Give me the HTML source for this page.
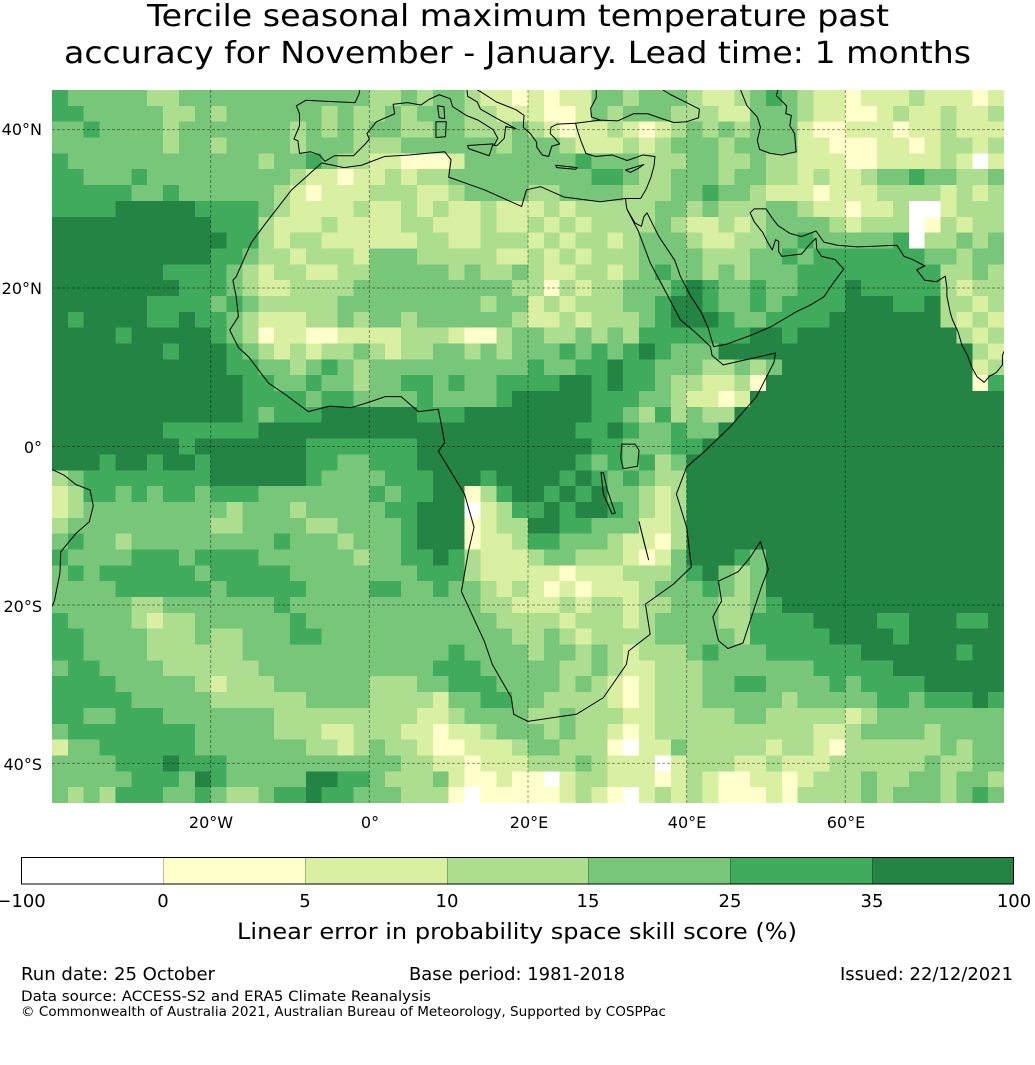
<!DOCTYPE html>
<html><head><meta charset="utf-8"><style>
html,body{margin:0;padding:0;background:#fff;}
svg{display:block;}
text{font-family:"DejaVu Sans","Liberation Sans",sans-serif;fill:#000;}
</style></head><body>
<svg id="root" width="1035" height="1065" viewBox="0 0 1035 1065" xmlns="http://www.w3.org/2000/svg">
<rect width="1035" height="1065" fill="#fff"/>
<text x="518" y="26" font-size="30" text-anchor="middle" textLength="742" lengthAdjust="spacingAndGlyphs">Tercile seasonal maximum temperature past</text>
<text x="517.5" y="63" font-size="30" text-anchor="middle" textLength="907" lengthAdjust="spacingAndGlyphs">accuracy for November - January. Lead time: 1 months</text>

<svg x="52" y="90" width="952" height="713" viewBox="-40 -45 120 90" preserveAspectRatio="none">
<rect x="-40" y="-45" width="120" height="90" fill="#78c679"/>
<g id="cells" shape-rendering="crispEdges"></g>
<g fill="none" stroke="#000" stroke-opacity="0.4" stroke-width="1" vector-effect="non-scaling-stroke" stroke-dasharray="3,2">
<path vector-effect="non-scaling-stroke" d="M-20,-45V45M0,-45V45M20,-45V45M40,-45V45M60,-45V45M-40,-40H80M-40,-20H80M-40,0H80M-40,20H80M-40,40H80"/>
</g>
<g fill="none" stroke="#000" stroke-width="1" stroke-linejoin="round">
<path vector-effect="non-scaling-stroke" d="M-6,-35.8 L-9.8,-32.4 -13.2,-28 -14.9,-25.7 -16.8,-21.4 -17.2,-21 -16.8,-19 -16.5,-16.4 -17.6,-14.7 -16.5,-12.5 -15.2,-11.3 -12.7,-8 -10.5,-6.5 -7.7,-4.4 -5,-5.1 -2.3,-4.9 0,-5.6 2,-6.3 4,-6.3 6.2,-4.4 8.7,-4.7 9.5,-0.5 8.7,0.6 12,6 13.2,10.2 12.5,13.2 11.6,18.3 14.5,24.6 15.5,27.5 17.9,31.7 18.2,33.8 20,34.7 24,34.1 26.1,33.8 29.5,31.7 32.4,27.5 32.7,25.8 35.4,23.7 34.8,19.9 38.3,17.4 40.6,15.2 40,10.2 38.7,6 40,2.6 42.5,0.4 45.5,-2.5 48.8,-6.3 51,-10.6 51.2,-11.8 49,-11.3 44.6,-10.3 43.2,-11.5 43,-12.6 41,-14.5 39.2,-16 37,-20.2 35.4,-23.2 33.9,-27.2 32.5,-29.9 32.4,-30.3 32.3,-31.3 29.1,-30.9 24.5,-31.5 21.6,-32.8 19.8,-32.4 19.2,-30.3 14.5,-32.4 10,-34 10.3,-36.2 9.5,-37.2 5,-36.8 1.9,-36.6 -1,-35.5 -3.2,-35.2 -6,-35.8"/>
<path vector-effect="non-scaling-stroke" d="M32.5,-29.9 L33.5,-28.2 34.3,-27.8 34.6,-29 35,-29.5 36.5,-26.5 38.5,-23.5 39.2,-21.5 40.5,-19 41.8,-17 42.7,-15 43.4,-12.6 45,-12.9 48,-14 50.6,-15.1 53.8,-17 55.5,-17.8 57.3,-18.9 58.6,-20.8 59.8,-22.4 58.7,-23.6 57,-24 56.4,-24.9 56.3,-26.3 55.5,-25.5 54.5,-24.3 52,-24 51.6,-24.6 51.6,-25.9 51.2,-26.1 50.8,-24.8 50.2,-25.8 49.6,-27 48.5,-28.4 48,-29.5 48.5,-30 50,-30 50.8,-28.8 51.5,-27.9 53,-26.9 54.5,-26.5 56.3,-27.2 57.3,-25.8 59,-25.4 61.5,-25.2 64,-25.3 66.5,-25.4 67.4,-24 68.5,-23.6 70,-22.8 69,-22.3 70,-21 71.5,-20.8 72.6,-21.5 72.8,-20 72.8,-19 73.2,-17 73.5,-16 74.2,-14.5 74.7,-12.8 75.4,-11.5 76,-9.9 76.6,-8.8 77.5,-8.1 78.2,-8.9 79,-9.3 79.8,-10.3 79.8,-11.5 80,-12"/>
<path vector-effect="non-scaling-stroke" d="M32.3,-31.3 L34.2,-31.3 34.9,-32.5 35.5,-34 35.9,-35.5 36,-36.6 34.5,-36.8 32.5,-36.1 30.6,-36.8 28.5,-36.6 27.3,-37 26.7,-38.5 26.2,-40 26,-40.8 29.1,-41.2 31.3,-41.1 33.3,-42 35.1,-42 36.8,-41.4 38.4,-40.9 40,-41 41.5,-41.5 41.6,-42.6 40,-43.4 38,-44.4 37,-45"/>
<path vector-effect="non-scaling-stroke" d="M28.6,-45 L28.6,-44 27.9,-42.7 28,-41.6 29.1,-41.2"/>
<path vector-effect="non-scaling-stroke" d="M26,-40.8 L23.7,-40.7 22.9,-40.3 22.8,-39.5 23.3,-39 24,-38.2 23,-37.9 22.6,-36.6 21.8,-36.8 21.1,-37.8 21.1,-38.4 20.3,-39.5 19.4,-40.3 19.5,-41.8 18.5,-42.5 16,-43.5 14,-44.8 13.6,-45"/>
<path vector-effect="non-scaling-stroke" d="M12.3,-45 L12.4,-44.2 13.6,-43.5 14,-42.6 16.1,-41.4 18.5,-40.1 17.2,-40.4 17,-38.9 16.1,-38 15.7,-38 16.2,-38.9 15.6,-40 13.7,-41.2 12.2,-41.8 10.5,-42.9 10.2,-43.9 8.8,-44.4 7.5,-43.8 6.5,-43.1 4.8,-43.4 3,-43.2 3.2,-42 0.9,-41 -0.3,-39.5 0,-38.8 -0.5,-38.2 -2,-36.7 -4.4,-36.7 -5.6,-36 -6.3,-36.8 -7.4,-37.2 -8.8,-37 -9,-38.6 -9.5,-38.8 -8.8,-40.5 -8.8,-42 -9.2,-43 -8,-43.7 -4,-43.5 -1.8,-43.4 -1.3,-44.5 -1.2,-45"/>
<path vector-effect="non-scaling-stroke" d="M46.8,-45 L47.6,-43 48.9,-41.6 49.3,-40.3 48.9,-38.6 49.2,-37.5 50.5,-37 52,-36.8 53.8,-37.2 53.6,-39.5 53,-40.5 53.2,-41.8 52.5,-42 52.6,-43 51.3,-44.3 51.5,-45"/>
<path vector-effect="non-scaling-stroke" d="M49.3,12 L50.3,15.5 49.5,17.5 48.5,20.5 47.1,24.8 45.2,25.5 44,24.5 43.3,21.5 44.4,19.5 44,17 46.5,15.8 48,14 49.3,12Z"/>
<path vector-effect="non-scaling-stroke" d="M-40,2.9 L-38.5,3.6 -37,4.8 -35.2,5.5 -34.8,7.5 -35.3,9.5 -37,11 -38.9,13.3 -39,16 -39.7,19.5 -40,20.2"/>
<path vector-effect="non-scaling-stroke" d="M12.4,-38 L15.6,-38.2 15.1,-36.7 12.5,-37.6Z M8.4,-41 L9.7,-41 9.6,-39.1 8.4,-39Z M8.6,-43 L9.4,-42.9 9.5,-41.4 8.8,-41.5Z M23.5,-35.5 L26.2,-35.2 26,-35 23.6,-35.2Z M32.3,-34.9 L34.6,-35.6 33.9,-35.1 32.9,-34.6Z"/>
<path vector-effect="non-scaling-stroke" d="M31.8,-0.3 L33.5,-0.3 34,0.5 33.8,2.5 32,2.8 31.7,1.5Z M29.2,3.3 L29.5,6 30.6,8.5 31,8.4 30,5.5 29.5,3.3Z M34,9.5 L34.6,12 35.2,14.3 34.5,11.5Z"/>
</g>
</svg>

<g font-size="16" text-anchor="middle">
<text x="211" y="828">20°W</text>
<text x="370" y="828">0°</text>
<text x="529" y="828">20°E</text>
<text x="687" y="828">40°E</text>
<text x="846" y="828">60°E</text>
</g>
<g font-size="16" text-anchor="end">
<text x="42" y="135">40°N</text>
<text x="42" y="294">20°N</text>
<text x="42" y="453">0°</text>
<text x="42" y="612">20°S</text>
<text x="42" y="770">40°S</text>
</g>

<g shape-rendering="crispEdges">
<rect x="21" y="857" width="142" height="27" fill="#ffffff"/>
<rect x="163" y="857" width="142" height="27" fill="#ffffcc"/>
<rect x="305" y="857" width="142" height="27" fill="#d9f0a3"/>
<rect x="447" y="857" width="141" height="27" fill="#addd8e"/>
<rect x="588" y="857" width="142" height="27" fill="#78c679"/>
<rect x="730" y="857" width="142" height="27" fill="#41ab5d"/>
<rect x="872" y="857" width="142" height="27" fill="#238443"/>
<path d="M163.5,857V884M305.5,857V884M447.5,857V884M588.5,857V884M730.5,857V884M872.5,857V884" stroke="#000" stroke-opacity="0.25"/>
<rect x="21.5" y="857.5" width="992" height="26.5" fill="none" stroke="#000" stroke-width="1"/>
</g>
<g font-size="18" text-anchor="middle">
<text x="21" y="907">−100</text>
<text x="163" y="907">0</text>
<text x="305" y="907">5</text>
<text x="447" y="907">10</text>
<text x="588" y="907">15</text>
<text x="730" y="907">25</text>
<text x="872" y="907">35</text>
<text x="1014" y="907">100</text>
</g>
<text x="517" y="939" font-size="22" text-anchor="middle" textLength="560" lengthAdjust="spacingAndGlyphs">Linear error in probability space skill score (%)</text>
<text x="21" y="980" font-size="18" textLength="194" lengthAdjust="spacingAndGlyphs">Run date: 25 October</text>
<text x="517" y="980" font-size="18" text-anchor="middle" textLength="216" lengthAdjust="spacingAndGlyphs">Base period: 1981-2018</text>
<text x="1013" y="980" font-size="18" text-anchor="end" textLength="173" lengthAdjust="spacingAndGlyphs">Issued: 22/12/2021</text>
<text x="21" y="1001" font-size="14.5" textLength="410" lengthAdjust="spacingAndGlyphs">Data source: ACCESS-S2 and ERA5 Climate Reanalysis</text>
<text x="21" y="1016" font-size="13" textLength="645" lengthAdjust="spacingAndGlyphs">© Commonwealth of Australia 2021, Australian Bureau of Meteorology, Supported by COSPPac</text>
</svg>
<script>
(function(){
var rows=[
"5444443344|4444444444|3343443221|212244344432234543221222322212",
"5544444334|3444444343|3434443322|211243444333224443221123223223",
"4454444344|4444434343|4433443334|321223212343434442112221223222",
"4444444344|3444434443|3344444434|443222323444344442211122123323",
"5444444444|4443445433|2211124444|444544433344334332221122223202",
"5544454444|4444432212|2323344444|444455433444344332322344544334",
"5555544544|4444321222|3332234444|334444333445443222122233332323",
"5555666665|5554322223|2232322322|232333334434333443221223002333",
"6666666666|5553222322|2233222322|323233334322323444432333013233",
"6666666666|6553233222|2223322333|232332344432233445444445033434",
"6666666666|5543323332|4443333322|323233344443334454555555544344",
"6666666555|5432332233|4444434334|322332345443434445555555553343",
"6666666655|5432233334|4444444443|313233444565445445556555553233",
"6666665555|4543333344|4444444344|232333445665445455556665563323",
"6566665565|5432223343|4434444443|223233345666544555566666663232",
"6666566666|5431221122|2233321134|433434355555556656666666666323",
"6666666566|6543232334|3233443434|445454565444666666666666666632",
"6666666666|6554434543|4444444444|544556554443343466666666666623",
"6666666666|6655445443|4455454455|556656554332231666666666666615",
"6666666666|6655554554|4445444456|666655544322126666666666666666",
"6666666666|6654555666|6665556666|666655435343366666666666666666",
"6666666555|5556666666|6666666666|666556544544666666666666666666",
"6666666656|6666665555|5556666666|6666554445|5666666666|6666666666",
"6665665665|6666665544|5556666666|6665454534|6666666666|6666666666",
"3455555555|6666665444|4555666566|6656545433|6666666666|6666666666",
"2355454554|5554444444|5455661356|6565644323|6666666666|6666666666",
"2344444444|4344434444|4556660235|5656654323|6666666666|6666666666",
"3444444444|3344443344|4456661233|6655444223|6666666666|6666666666",
"4544344444|4444544434|4456661223|5544432213|6666666666|6666666666",
"5444455545|5554444443|4455653222|3443332124|6665466666|6666666666",
"4545555554|5555544444|4445553222|2212223334|5643466666|6666666666",
"4444555555|4555554444|5544544323|2121222344|4543466666|6666666666",
"4444433444|4444544444|4444444332|2232332334|4433456666|6666666666",
"5444432334|4444454444|4444444433|3323332344|4433555566|6655666556",
"5544443334|3344455444|4444444443|3432333344|4443555556|6665666666",
"5544443333|3344444444|4444454444|3443432333|4544455555|5666666566",
"4554444333|3334444444|4444555444|4433432233|3444444455|5556666666",
"5555444443|2333444444|3334455544|4434321233|3445544445|4555566666",
"5555544444|3333334444|3333244554|4333321233|3444443444|4455455565",
"5544555444|4444333333|3332234444|3343332233|3334433333|2344444444",
"4555555554|4444333223|3322122344|4343321233|3333333322|3444434444",
"2445555554|4444443323|4332112223|4433310224|3333323321|3333334344",
"4444555655|5444444444|4433221222|3334322202|3332232223|3333343344",
"4444455546|5444446655|4333421121|1023322212|3211221233|3433443443",
"4343555445|4334556554|4433310111|1123210232|3211121333|3434443454"
];
var cols=['#ffffff','#ffffcc','#d9f0a3','#addd8e','#78c679','#41ab5d','#238443'];
var g=document.getElementById('cells');
var NS='http://www.w3.org/2000/svg';
for(var r=0;r<rows.length;r++){
  var row=rows[r].replace(/\|/g,'');
  var n=row.length;
  var c=0;
  while(c<n){
    var v=row.charAt(c),e=c;
    while(e<n&&row.charAt(e)===v)e++;
    var rc=document.createElementNS(NS,'rect');
    rc.setAttribute('x',-40+2*c);
    rc.setAttribute('y',-45+2*r);
    rc.setAttribute('width',2*(e-c)+0.03);
    rc.setAttribute('height',2.03);
    rc.setAttribute('fill',cols[+v]);
    g.appendChild(rc);
    c=e;
  }
}
})();
</script>
</body></html>
